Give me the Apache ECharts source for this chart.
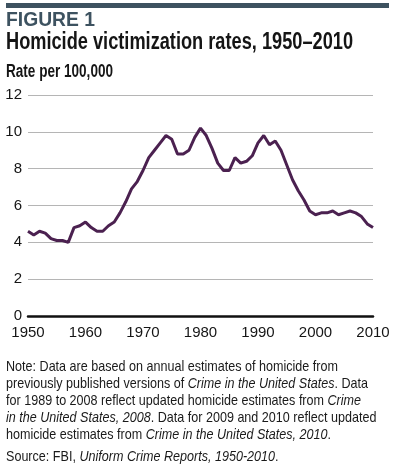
<!DOCTYPE html>
<html><head><meta charset="utf-8">
<script src="https://cdn.jsdelivr.net/npm/echarts@6/dist/echarts.min.js"></script>
<style>html,body{margin:0;padding:0;background:#fff}#c{width:407px;height:476px}</style>
</head><body><div id="c"></div>
<script>
const years = [];
for (let y = 1950; y <= 2010; y++) years.push(y);
const rates = [4.6,4.4,4.6,4.5,4.2,4.1,4.1,4.0,4.8,4.9,
  5.1,4.8,4.6,4.6,4.9,5.1,5.6,6.2,6.9,7.3,
  7.9,8.6,9.0,9.4,9.8,9.6,8.8,8.8,9.0,9.7,
  10.2,9.8,9.1,8.3,7.9,7.9,8.6,8.3,8.4,8.7,
  9.4,9.8,9.3,9.5,9.0,8.2,7.4,6.8,6.3,5.7,
  5.5,5.6,5.6,5.7,5.5,5.6,5.7,5.6,5.4,5.0,4.8];
const yTicks = [0,2,4,6,8,10,12];
const xTicks = [1950,1960,1970,1980,1990,2000,2010];
const figLabel = 'FIGURE 1';
const titleText = 'Homicide victimization rates, 1950–2010';
const unitText = 'Rate per 100,000';
const noteLines = [
  [['n','Note: Data are based on annual estimates of homicide from']],
  [['n','previously published versions of '],['i','Crime in the United States'],['n','. Data']],
  [['n','for 1989 to 2008 reflect updated homicide estimates from '],['i','Crime']],
  [['i','in the United States, 2008'],['n','. Data for 2009 and 2010 reflect updated']],
  [['n','homicide estimates from '],['i','Crime in the United States, 2010'],['n','.']]
];
const sourceLine = [['n','Source: FBI, '],['i','Uniform Crime Reports, 1950-2010'],['n','.']];

const F = '"Liberation Sans", Arial, sans-serif';
const cv = document.createElement('canvas').getContext('2d');
function w(font, s){ cv.font = font; return cv.measureText(s).width; }

const NF = 15;
const fontN = `normal ${NF}px ${F}`;
const fontI = `italic ${NF}px ${F}`;
function lineWidth(segs){ return segs.reduce((a,[k,s]) => a + w(k==='i'?fontI:fontN, s), 0); }
const noteScale = (338 - 6) / lineWidth(noteLines[0]);

function richText(segs){ return segs.map(([k,s]) => `{${k}|${s}}`).join(''); }
const TC = '#1a1a1a';
const rich = {n:{font:fontN, fill:TC}, i:{font:fontI, fill:TC}};

const graphics = [{type:'rect', shape:{x:6,y:3,width:383,height:5}, style:{fill:'#3d5260'}}];
function addFitText(text, font, color, x, baseline, targetW){
  graphics.push({type:'text', x:x, y:baseline, scaleX: targetW / w(font, text),
    style:{text:text, font:font, fill:color, verticalAlign:'bottom'}});
}
const figFont = `900 21px ${F}`;
const titleFont = `bold 23px ${F}`;
const unitFont = `bold 18px ${F}`;
addFitText(figLabel, figFont, '#3d5260', 6, 31, 89);
addFitText(titleText, titleFont, '#151515', 6, 54, 347);
addFitText(unitText, unitFont, '#151515', 6, 81, 107);
const noteBaselines = [374, 391, 408, 425, 442];
noteLines.forEach((segs, k) => {
  graphics.push({type:'text', x:6, y:noteBaselines[k], scaleX:noteScale,
    style:{text:richText(segs), rich:rich, font:fontN, fill:TC, verticalAlign:'bottom'}});
});
graphics.push({type:'text', x:6, y:464, scaleX:noteScale,
  style:{text:richText(sourceLine), rich:rich, font:fontN, fill:TC, verticalAlign:'bottom'}});

const chart = echarts.init(document.getElementById('c'), null, {renderer:'canvas'});
chart.setOption({
  animation:false,
  graphic:graphics,
  grid:{left:28, right:34, top:95, bottom:160, containLabel:false},
  xAxis:{type:'value', min:1950, max:2010, interval:10,
    axisLine:{show:true, onZero:false, lineStyle:{color:'#111', width:2.5}},
    axisTick:{show:false}, splitLine:{show:false},
    axisLabel:{fontFamily:F, fontSize:15, color:'#151515', margin:9,
      formatter:v => xTicks.includes(v) ? String(v) : ''}},
  yAxis:{type:'value', min:0, max:12, interval:2,
    axisLine:{show:false}, axisTick:{show:false},
    splitLine:{lineStyle:{color:'#b5b5b5', width:1}},
    axisLabel:{fontFamily:F, fontSize:15, color:'#151515', margin:6,
      formatter:v => yTicks.includes(v) ? String(v) : ''}},
  series:[{type:'line', data:years.map((y,i)=>[y, rates[i]]), symbol:'none',
    lineStyle:{color:'#4b2150', width:3}, z:5}]
});
</script></body></html>
